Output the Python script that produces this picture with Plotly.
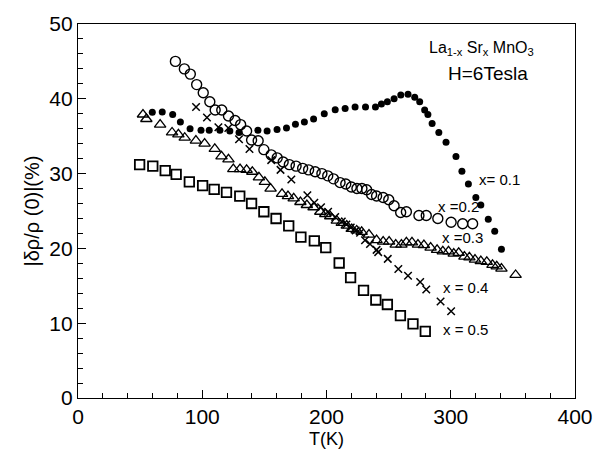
import plotly.graph_objects as go

# x = 0.1 (filled circles)
T_01 = [59.8, 67.8, 76.2, 82.4, 90.2, 99.0, 105.6, 114.2, 122.2, 129.6, 144.8, 152.2, 160.2, 167.8,
        175.0, 182.2, 189.6, 198.2, 207.0, 215.0, 223.0, 231.4, 239.4, 244.2, 249.0, 254.4, 259.8,
        265.6, 271.0, 275.0, 279.0, 281.6, 285.0, 290.4, 296.2, 304.2, 309.0, 314.2, 320.2, 324.2,
        330.2, 335.4, 340.8]
V_01 = [38.2, 38.25, 37.9, 36.9, 36.0, 35.8, 35.8, 35.8, 35.7, 35.5, 35.8, 35.7, 35.9, 36.1,
        36.6, 36.9, 37.3, 38.0, 38.55, 38.7, 38.9, 38.9, 38.9, 39.3, 39.6, 40.0, 40.5,
        40.6, 40.2, 39.6, 38.5, 37.9, 36.7, 35.5, 34.2, 32.3, 30.3, 28.6, 26.8, 25.8,
        23.9, 22.3, 19.9]

# x = 0.2 (open circles)
T_02 = [78.4, 85.6, 90.4, 95.5, 100.8, 106.1, 110.4, 115.7, 121.1, 126.4, 130.9, 135.7, 139.7, 145.0,
        149.6, 155.5, 160.3, 165.1, 170.1, 175.5, 180.8, 185.6, 190.9, 196.3, 201.0, 205.6, 210.9,
        215.5, 220.0, 224.5, 228.5, 232.3, 236.3, 240.3, 245.6, 250.1, 254.4, 259.7, 264.3, 274.4,
        280.3, 289.6, 300.3, 309.6, 317.6]
V_02 = [45.0, 44.0, 43.3, 41.9, 40.8, 39.6, 38.5, 38.5, 37.7, 37.1, 36.55, 35.7, 34.5, 34.4,
        33.2, 32.5, 32.1, 31.55, 31.2, 31.0, 30.7, 30.5, 30.25, 30.0, 29.7, 29.3, 28.8,
        28.6, 28.2, 28.0, 28.0, 27.85, 27.2, 27.0, 26.8, 26.5, 25.7, 24.8, 24.9, 24.4,
        24.4, 24.0, 23.5, 23.3, 23.3]

# x = 0.3 (open triangles)
T_03 = [52.3, 55.0, 66.1, 75.7, 80.8, 85.9, 94.9, 101.9, 110.1, 115.5, 121.1, 125.0, 130.4, 135.7,
        140.3, 145.6, 150.4, 155.0, 164.2, 169.0, 173.6, 179.0, 184.2, 189.6, 195.0, 199.0, 203.0,
        208.3, 212.3, 216.3, 220.3, 224.3, 228.3, 234.2, 240.3, 245.6, 250.4, 255.7, 260.3, 264.3,
        268.8, 273.6, 278.4, 283.8, 289.0, 293.6, 298.2, 302.4, 306.4, 311.0, 315.0, 319.5, 324.2,
        329.0, 333.6, 337.0, 340.8, 352.2]
V_03 = [37.9, 37.3, 36.55, 35.5, 35.25, 34.8, 34.4, 34.0, 33.3, 32.3, 31.9, 30.6, 30.6, 30.5,
        30.25, 29.5, 28.9, 28.0, 27.3, 27.0, 26.7, 26.2, 25.8, 25.5, 24.9, 24.6, 24.3,
        23.7, 23.4, 23.05, 22.6, 22.4, 22.2, 21.85, 21.1, 20.9, 20.9, 20.5, 20.5, 20.8,
        20.8, 20.5, 20.45, 20.1, 19.8, 19.6, 19.6, 19.3, 19.4, 18.9, 18.8, 18.5, 18.3,
        18.2, 17.8, 17.6, 17.3, 16.45]

# x = 0.4 (crosses)
T_04 = [95.0, 103.8, 113.0, 121.0, 129.6, 138.0, 155.5, 163.0, 171.7, 184.6, 190.2, 195.6, 201.3,
        207.0, 212.3, 216.0, 219.5, 223.5, 227.0, 231.0, 235.0, 240.3, 241.6, 249.3, 257.8, 265.6,
        275.4, 280.3, 291.8, 300.3]
V_04 = [38.9, 37.5, 36.2, 36.1, 34.6, 33.3, 31.8, 30.5, 29.2, 27.1, 26.1, 25.5, 24.9,
        24.2, 23.6, 23.2, 22.8, 22.4, 22.1, 21.1, 20.6, 19.8, 19.5, 18.6, 17.25, 16.35,
        15.5, 14.5, 12.9, 11.6]

# x = 0.5 (open squares)
T_05 = [49.6, 60.2, 70.2, 79.0, 89.6, 100.3, 109.6, 119.5, 130.2, 139.7, 149.6, 159.4, 169.6,
        179.4, 190.2, 199.4, 210.2, 219.4, 229.8, 239.7, 249.0, 259.5, 269.6, 279.5]
V_05 = [31.2, 31.0, 30.4, 29.9, 28.9, 28.4, 27.9, 27.5, 27.0, 26.0, 24.9, 24.0, 23.0,
        21.5, 21.0, 20.1, 18.05, 16.1, 14.4, 13.1, 12.5, 11.0, 9.9, 8.9]

labels = ["x= 0.1", "x =0.2", "x =0.3", "x = 0.4", "x = 0.5"]
label_T = [321.5, 288.0, 291.0, 292.0, 292.0]
label_V = [29.2, 25.6, 21.4, 14.75, 9.1]

FONT = "Liberation Sans"
fig = go.Figure()

fig.add_trace(go.Scatter(x=T_01, y=V_01, mode="markers",
                         marker=dict(symbol="circle", size=7, color="black")))
fig.add_trace(go.Scatter(x=T_02, y=V_02, mode="markers",
                         marker=dict(symbol="circle-open", size=10, color="black",
                                     line=dict(width=1.4))))
fig.add_trace(go.Scatter(x=T_03, y=V_03, mode="markers",
                         marker=dict(symbol="triangle-up-open", size=10, color="black",
                                     line=dict(width=1.3))))
fig.add_trace(go.Scatter(x=T_04, y=V_04, mode="markers",
                         marker=dict(symbol="x-thin-open", size=7.5, color="black",
                                     line=dict(width=1.5, color="black"))))
fig.add_trace(go.Scatter(x=T_05, y=V_05, mode="markers",
                         marker=dict(symbol="square-open", size=9.5, color="black",
                                     line=dict(width=1.8))))

for txt, tx, ty in zip(labels, label_T, label_V):
    fig.add_annotation(x=tx, y=ty, text=txt, showarrow=False, xanchor="left", yanchor="middle",
                       font=dict(family=FONT, size=15, color="black"))

fig.add_annotation(x=325, y=46.7, text="La<sub>1-x</sub> Sr<sub>x</sub> MnO<sub>3</sub>",
                   showarrow=False, xanchor="center", yanchor="middle",
                   font=dict(family=FONT, size=16, color="black"))
fig.add_annotation(x=330, y=43.4, text="H=6Tesla", showarrow=False,
                   xanchor="center", yanchor="middle",
                   font=dict(family=FONT, size=19, color="black"))

axis_common = dict(showgrid=False, zeroline=False, showline=True, linecolor="black",
                   linewidth=1.4, mirror=True, ticks="inside", tickcolor="black",
                   tickwidth=1.2, ticklen=8,
                   tickfont=dict(family=FONT, size=21, color="black"))

fig.update_xaxes(range=[0, 400], tick0=0, dtick=100,
                 minor=dict(dtick=20, ticks="inside", ticklen=5, tickcolor="black", tickwidth=1),
                 title=dict(text="T(K)", font=dict(family=FONT, size=18, color="black"), standoff=4),
                 **axis_common)
fig.update_yaxes(range=[0, 50], tick0=0, dtick=10,
                 minor=dict(dtick=2, ticks="inside", ticklen=5, tickcolor="black", tickwidth=1),
                 title=dict(text="|δρ/ρ (0)|(%)", font=dict(family=FONT, size=20, color="black"),
                            standoff=4),
                 **axis_common)

fig.update_layout(width=605, height=457, margin=dict(l=78, r=27, t=17, b=57),
                  paper_bgcolor="white", plot_bgcolor="white", showlegend=False)

fig.write_html("out.html")
